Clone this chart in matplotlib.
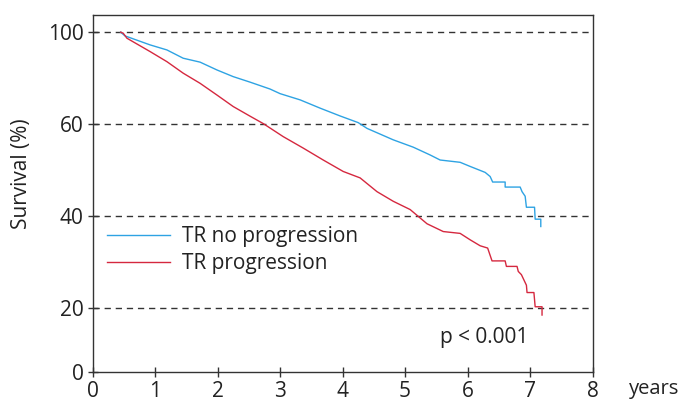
import numpy as np
import matplotlib
matplotlib.use("Agg")
import matplotlib.pyplot as plt

plt.rcParams['font.family'] = ['Open Sans', 'DejaVu Sans']

# Kaplan-Meier curves (years, survival %)
blue_x = [0.45, 0.52, 0.92, 1.19, 1.45, 1.72, 1.99, 2.25, 2.52, 2.84, 3.00, 3.32, 3.64,
          3.96, 4.25, 4.39, 4.81, 5.13, 5.40, 5.56, 5.88, 6.04, 6.28, 6.36, 6.40, 6.60,
          6.60, 6.84, 6.87, 6.92, 6.94, 7.07, 7.08, 7.17, 7.17]
blue_y = [100.0, 98.4, 94.5, 92.3, 88.7, 87.0, 83.6, 80.7, 78.3, 75.3, 73.3, 70.6, 67.0,
          63.6, 60.7, 59.1, 56.6, 55.0, 53.3, 52.2, 51.7, 50.8, 49.5, 48.6, 47.4, 47.4,
          46.3, 46.3, 45.3, 44.3, 41.9, 41.9, 39.3, 39.3, 37.7]

red_x = [0.45, 0.49, 0.55, 0.92, 1.19, 1.45, 1.72, 1.99, 2.25, 2.52, 2.73, 3.05, 3.37,
         3.69, 4.01, 4.28, 4.55, 4.81, 5.08, 5.35, 5.61, 5.88, 6.04, 6.20, 6.32, 6.39,
         6.60, 6.62, 6.79, 6.81, 6.86, 6.94, 6.95, 7.06, 7.08, 7.19, 7.19]
red_y = [100.0, 99.6, 97.4, 91.6, 87.2, 82.2, 77.8, 72.7, 67.7, 63.5, 60.3, 57.3, 54.8,
         52.2, 49.7, 48.3, 45.3, 43.2, 41.4, 38.3, 36.6, 36.2, 34.8, 33.5, 33.0, 30.2,
         30.2, 29.0, 29.0, 27.9, 27.2, 24.9, 23.3, 23.3, 20.2, 20.2, 17.7]

series_labels = ["TR no progression", "TR progression"]
x_ticks = [0, 1, 2, 3, 4, 5, 6, 7, 8]
y_ticks = [0, 20, 40, 60, 100]
grid_levels = [20, 40, 60, 100]

# non-uniform vertical scale of the original figure
_vals = [0, 20, 40, 60, 100, 300]
_pos = [0, 64, 155.7, 247.4, 339.4, 799.4]
def fwd(v):
    return np.interp(v, _vals, _pos)
def inv(p):
    return np.interp(p, _pos, _vals)

fig = plt.figure(figsize=(6.89, 4.01), dpi=100)
ax = fig.add_axes([0.1343, 0.0731, 0.7259, 0.8907])
ax.set_yscale('function', functions=(fwd, inv))

for g in grid_levels:
    ax.axhline(g, color='#333333', lw=1.0, ls=(0, (4.5, 3.5)), zorder=1)

ax.plot(blue_x, blue_y, color='#2ea3e3', lw=1.0, label=series_labels[0], zorder=3)
ax.plot(red_x, red_y, color='#d5283f', lw=1.0, label=series_labels[1], zorder=3)

ax.set_xlim(0, 8)
ax.set_ylim(0, 107.7)
ax.set_xticks(x_ticks)
ax.set_yticks(y_ticks)
ax.set_xticklabels([str(t) for t in x_ticks])
ax.set_yticklabels([str(t) for t in y_ticks])
ax.minorticks_off()
ax.tick_params(direction='inout', length=7, width=1, colors='#333333',
               labelsize=15, labelcolor='#222222', pad=3)

for s in ax.spines.values():
    s.set_color('#333333')
    s.set_linewidth(1.0)

ax.set_ylabel("Survival (%)", fontsize=15, color='#222222')
ax.yaxis.set_label_coords(-0.121, 0.555)
fig.text(0.913, 0.006, "years", fontsize=14.5, color='#222222', ha='left', va='bottom')
ax.text(5.55, 10.6, "p < 0.001", fontsize=15, color='#222222', ha='left', va='center')

leg = ax.legend(loc='upper left', bbox_to_anchor=(0.029, 0.408), frameon=False,
                fontsize=15, handlelength=3.0, handletextpad=0.58, labelspacing=0.31,
                borderpad=0, borderaxespad=0)
for t in leg.get_texts():
    t.set_color('#222222')

fig.savefig("out.png", dpi=100)
